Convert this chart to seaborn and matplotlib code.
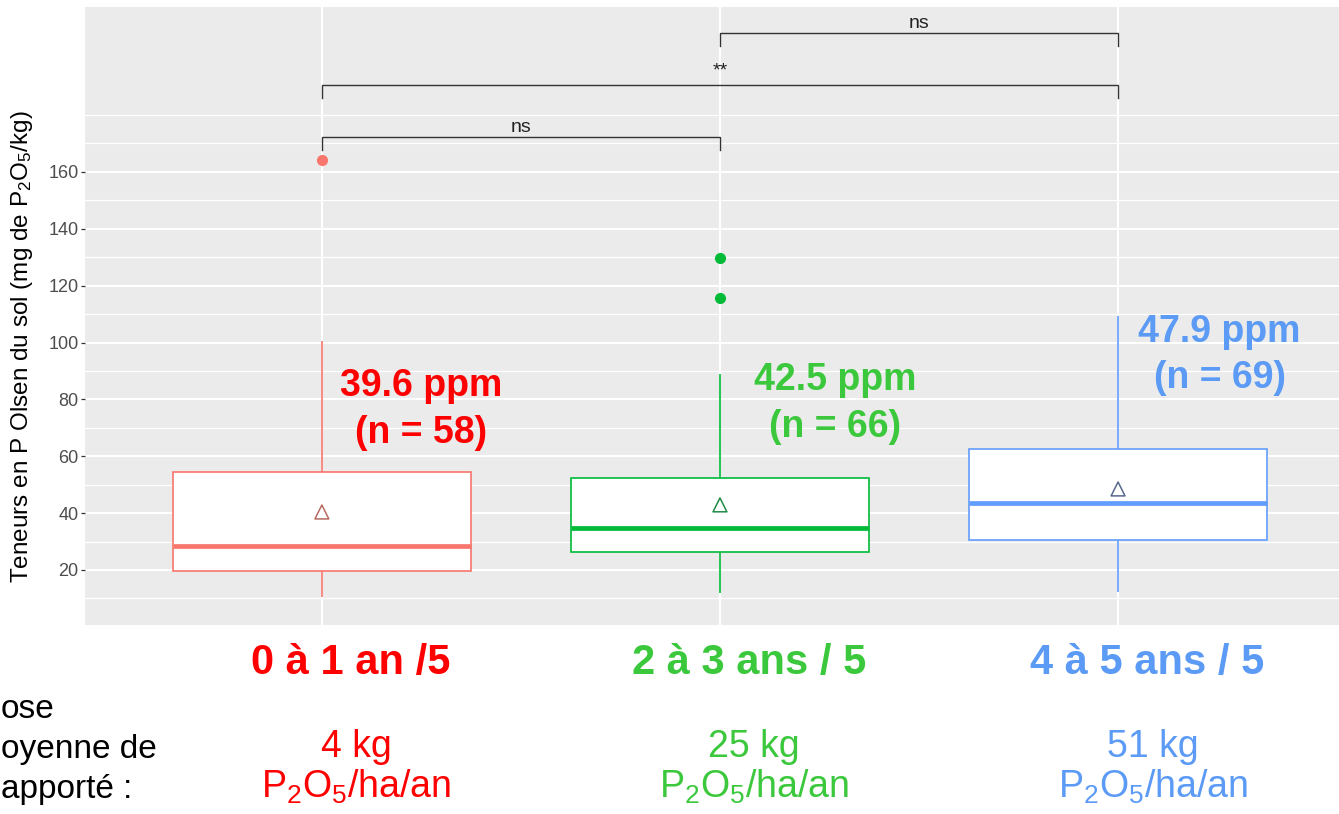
import numpy as np
import pandas as pd
import matplotlib
matplotlib.use("Agg")
import matplotlib.pyplot as plt
import matplotlib.transforms as mtransforms
from matplotlib.ticker import FixedLocator
import seaborn as sns

# ---------------- data ----------------
categories = ["0 à 1 an /5", "2 à 3 ans / 5", "4 à 5 ans / 5"]
whisker_low = [10.5, 11.9, 12.3]
q1 = [19.6, 26.3, 30.6]
median = [28.4, 34.8, 43.6]
q3 = [54.5, 52.4, 62.6]
whisker_high = [100.5, 88.9, 109.3]
outliers = [[164.2], [129.7, 115.7], []]
mean_markers = [40.4, 42.9, 48.5]
mean_labels = ["39.6 ppm", "42.5 ppm", "47.9 ppm"]
n_obs = [58, 66, 69]
dose_kg = [4, 25, 51]
comparisons = [(0, 1, "ns"), (0, 2, "**"), (1, 2, "ns")]
bracket_heights = [172.3, 190.6, 208.9]
y_ticks = [20, 40, 60, 80, 100, 120, 140, 160]
caption_lines = ["ose", "oyenne de", "apporté :"]

# ---------------- styles ----------------
box_colors = ["#F8766D", "#00BA38", "#619CFF"]
mean_colors = ["#B86A62", "#1E8A45", "#58688C"]
text_colors = ["#FF0000", "#3CC83C", "#5B9AF5"]

plt.rcParams["font.family"] = ["Liberation Sans", "DejaVu Sans"]
plt.rcParams["mathtext.fontset"] = "custom"
plt.rcParams["mathtext.rm"] = "Liberation Sans"
plt.rcParams["mathtext.it"] = "Liberation Sans"
plt.rcParams["mathtext.bf"] = "Liberation Sans:bold"

# long-form table reproducing the box statistics
rows = []
for cat, lo, a, m, b, hi, outs in zip(categories, whisker_low, q1, median, q3,
                                      whisker_high, outliers):
    vals = [lo] + [a] * 3 + [m] * 3 + [b] * 3 + [hi] + list(outs)
    rows += [(cat, v) for v in vals]
df = pd.DataFrame(rows, columns=["groupe", "teneur"])

W, H = 1339, 814
fig = plt.figure(figsize=(W / 100, H / 100), dpi=100)
fig.patch.set_facecolor("white")
ax = fig.add_axes([85 / W, (H - 625) / H, (W - 85) / W, (625 - 7) / H])
ax.set_facecolor("#EBEBEB")

sns.boxplot(data=df, x="groupe", y="teneur", hue="groupe", order=categories,
            hue_order=categories, palette=box_colors, width=0.75,
            linewidth=1.2, showcaps=False, whis=1.5,
            flierprops=dict(marker="o", markersize=7),
            medianprops=dict(linewidth=3.4), legend=False, ax=ax)

for k, cont in enumerate(ax.containers):
    col = box_colors[k]
    for b in cont.boxes:
        b.set_facecolor("white")
        b.set_edgecolor(col)
        b.set_linewidth(1.2)
    for w in cont.whiskers:
        w.set_color(col)
        w.set_linewidth(1.2)
    for m in cont.medians:
        m.set_color(col)
    for f in cont.fliers:
        f.set_markerfacecolor(col)
        f.set_markeredgecolor(col)

# mean markers (open triangles)
n_before = len(ax.collections)
sns.stripplot(x=categories, y=mean_markers, hue=categories, order=categories,
              hue_order=categories, palette=mean_colors, jitter=False,
              marker="^", size=10, linewidth=1.1, legend=False, ax=ax,
              zorder=5)
for coll in ax.collections[n_before:]:
    offs = coll.get_offsets()
    if len(offs) == 0:
        continue
    idx = int(round(offs[0][0]))
    coll.set_facecolor("none")
    coll.set_edgecolor(mean_colors[idx])
    coll.set_linewidth(1.1)

# significance brackets
for (i, j, lab), h in zip(comparisons, bracket_heights):
    ax.plot([i, i, j, j], [h - 4.6, h, h, h - 4.6], color="#333333", lw=1.0,
            solid_joinstyle="miter", zorder=6)
    dy = 3.3 if lab == "**" else 1.6
    ax.text((i + j) / 2, h + dy, lab, ha="center", va="baseline",
            fontsize=14, color="#222222", zorder=6)

# mean / n labels
label_anchor = [(0.25, 81.2, 64.7), (0.29, 83.3, 66.8), (0.255, 100.2, 84.0)]
for k, (dx, y1, y2) in enumerate(label_anchor):
    ax.text(k + dx, y1, mean_labels[k], ha="center", va="baseline",
            fontsize=27, fontweight="bold", color=text_colors[k], zorder=7)
    ax.text(k + dx, y2, f"(n = {n_obs[k]})", ha="center", va="baseline",
            fontsize=27, fontweight="bold", color=text_colors[k], zorder=7)

# axes, ticks, grid
ax.set_xlim(-0.595, 2.555)
ax.set_ylim(0.65, 218.0)
ax.yaxis.set_major_locator(FixedLocator(y_ticks))
ax.yaxis.set_minor_locator(FixedLocator([10, 30, 50, 70, 90, 110, 130, 150, 170, 180]))
ax.set_axisbelow(True)
ax.grid(True, which="major", axis="both", color="white", lw=1.5)
ax.grid(True, which="minor", axis="y", color="white", lw=0.9)
for s in ax.spines.values():
    s.set_visible(False)
ax.tick_params(axis="y", which="major", length=3, width=0.9, color="#333333",
               pad=1.5, labelsize=13, labelcolor="#4D4D4D")
ax.tick_params(axis="y", which="minor", length=0)
ax.set_xlabel("")
ax.set_ylabel("")

ax.set_xticks(range(len(categories)))
ax.set_xticklabels(categories)
ax.tick_params(axis="x", length=0, pad=13)
shift = mtransforms.ScaledTranslation(29 / 100, 0, fig.dpi_scale_trans)
for lbl, col in zip(ax.get_xticklabels(), text_colors):
    lbl.set_color(col)
    lbl.set_fontweight("bold")
    lbl.set_fontsize(30)
    lbl.set_transform(lbl.get_transform() + shift)

fig.text(22 / W, 1 - 347 / H,
         "Teneurs en P Olsen du sol (mg de P$_2$O$_5$/kg)",
         rotation=90, ha="center", va="center", fontsize=17.5, color="black")

# dose annotations under each group
dose_centers = [356, 754, 1153]
for k, cx in enumerate(dose_centers):
    fig.text(cx / W, 1 - 757 / H, f"{dose_kg[k]} kg", ha="center",
             va="baseline", fontsize=27, color=text_colors[k])
    fig.text(cx / W, 1 - 798 / H, "P$_2$O$_5$/ha/an", ha="center",
             va="baseline", fontsize=27, color=text_colors[k])

# left caption (as visible in the reference, its start lies off the slide)
for txt, yb in zip(caption_lines, [718, 758, 798]):
    fig.text(1 / W, 1 - yb / H, txt, ha="left", va="baseline",
             fontsize=24, color="black")

fig.savefig("out.png", dpi=100, facecolor="white")
